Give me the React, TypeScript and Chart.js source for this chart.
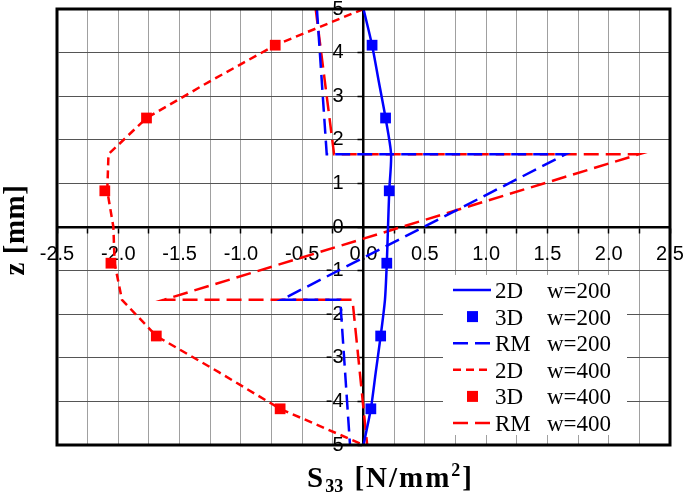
import React, { useEffect, useRef } from 'react';
import { Chart, registerables } from 'chart.js';

Chart.register(...registerables);

// ---- data ----
const zProfile = [5, 4.17, 3.33, 2.5, 1.67, 0.83, 0, -0.83, -1.67, -2.5, -3.33, -4.17, -5];
const s2D_w200 = [0, 0.07, 0.125, 0.18, 0.225, 0.21, 0.2, 0.19, 0.175, 0.14, 0.1, 0.06, 0];
const s2D_w400 = [0, -0.72, -1.26, -1.77, -2.08, -2.09, -2.04, -2.03, -1.97, -1.69, -1.18, -0.68, 0];

const zMarkers = [4.17, 2.5, 0.83, -0.83, -2.5, -4.17];
const s3D_w200 = [0.07, 0.18, 0.21, 0.19, 0.14, 0.06];
const s3D_w400 = [-0.72, -1.77, -2.11, -2.06, -1.69, -0.68];

const zRM = [5, 1.67, 1.67, -1.67, -1.67, -5];
const sRM_w200 = [-0.38, -0.3, 1.65, -0.67, -0.19, -0.11];
const sRM_w400 = [-0.39, -0.24, 2.25, -1.63, -0.09, 0.03];

const xMin = -2.5;
const xMax = 2.5;
const xGridStep = 0.25;
const yMin = -5;
const yMax = 5;
const yStep = 1;

const legendNames = ['2D', '3D', 'RM', '2D', '3D', 'RM'];
const legendWidths = ['w=200', 'w=200', 'w=200', 'w=400', 'w=400', 'w=400'];
const xTitleMain = 'S';
const xTitleSub = '33';
const xTitleMid = ' [N/mm';
const xTitleSup = '2';
const xTitleEnd = ']';
const yTitle = 'z [mm]';

const BLUE = '#0000ff';
const RED = '#ff0000';

const pts = (xs: number[], ys: number[]) => xs.map((x, i) => ({ x, y: ys[i] }));

const SERIF = '"Liberation Serif", "Times New Roman", serif';
const SANS = '"Liberation Sans", Arial, sans-serif';

const zeroPadding = (s: any) => {
  s.paddingTop = 0;
  s.paddingBottom = 0;
  s.paddingLeft = 0;
  s.paddingRight = 0;
};

const setSpacing = (ctx: any, v: string) => {
  try { ctx.letterSpacing = v; } catch (e) { /* ignore */ }
};

const decorPlugin = {
  id: 'decor',
  afterLayout(chart: any) {
    // put the y axis (line, ticks, labels) on x = 0
    const ys = chart.scales.y;
    const px = chart.scales.x.getPixelForValue(0);
    ys.left = px - 80;
    ys.right = px;
  },
  afterDatasetsDraw(chart: any) {
    const { ctx, chartArea } = chart;
    ctx.save();
    ctx.strokeStyle = '#000';
    ctx.lineWidth = 3;
    ctx.setLineDash([]);
    ctx.strokeRect(chartArea.left, chartArea.top, chartArea.right - chartArea.left, chartArea.bottom - chartArea.top);
    ctx.restore();
  },
  afterDraw(chart: any) {
    const { ctx } = chart;
    const ds = chart.data.datasets;
    // legend
    ctx.save();
    ctx.fillStyle = '#fff';
    ctx.fillRect(443, 275, 184, 160);
    for (let i = 0; i < ds.length; i++) {
      const d = ds[i];
      const cy = 290 + i * 26.6;
      if (d.showLine) {
        ctx.strokeStyle = d.borderColor;
        ctx.lineWidth = d.borderWidth;
        ctx.setLineDash(d.borderDash || []);
        ctx.beginPath();
        ctx.moveTo(453, cy);
        ctx.lineTo(491, cy);
        ctx.stroke();
        ctx.setLineDash([]);
      } else {
        ctx.fillStyle = d.backgroundColor;
        ctx.fillRect(467, cy - 5.5, 11, 11);
      }
      ctx.fillStyle = '#000';
      ctx.font = '23px ' + SERIF;
      ctx.textAlign = 'left';
      ctx.textBaseline = 'alphabetic';
      ctx.fillText(legendNames[i], 495, cy + 8);
      ctx.fillText(legendWidths[i], 547, cy + 8);
    }
    // x title
    ctx.fillStyle = '#000';
    ctx.textBaseline = 'alphabetic';
    ctx.textAlign = 'left';
    const base = 487;
    let x = 307;
    const big = 'bold 29px ' + SERIF;
    const small = 'bold 18px ' + SERIF;
    setSpacing(ctx, '2px');
    ctx.font = big;
    ctx.fillText(xTitleMain, x, base);
    x += ctx.measureText(xTitleMain).width;
    setSpacing(ctx, '0px');
    ctx.font = small;
    ctx.fillText(xTitleSub, x, base + 5);
    x += ctx.measureText(xTitleSub).width + 2;
    setSpacing(ctx, '2px');
    ctx.font = big;
    ctx.fillText(xTitleMid, x, base);
    x += ctx.measureText(xTitleMid).width;
    setSpacing(ctx, '0px');
    ctx.font = small;
    ctx.fillText(xTitleSup, x, base - 11);
    x += ctx.measureText(xTitleSup).width + 2;
    setSpacing(ctx, '2px');
    ctx.font = big;
    ctx.fillText(xTitleEnd, x, base);
    // y title
    setSpacing(ctx, '0.5px');
    ctx.save();
    ctx.translate(24, 230);
    ctx.rotate(-Math.PI / 2);
    ctx.textAlign = 'center';
    ctx.font = 'bold 29px ' + SERIF;
    ctx.fillText(yTitle, 0, 0);
    ctx.restore();
    setSpacing(ctx, '0px');
    ctx.restore();
  },
};

export default function App() {
  const ref = useRef<HTMLCanvasElement | null>(null);
  useEffect(() => {
    if (!ref.current) return;
    const chart = new Chart(ref.current, {
      type: 'scatter',
      data: {
        datasets: [
          { label: '2D w=200', data: pts(s2D_w200, zProfile), showLine: true, borderColor: BLUE, backgroundColor: BLUE, borderWidth: 2.5, pointRadius: 0, tension: 0.25 },
          { label: '3D w=200', data: pts(s3D_w200, zMarkers), showLine: false, borderColor: BLUE, backgroundColor: BLUE, borderWidth: 0, pointStyle: 'rect', pointRadius: 7.6 },
          { label: 'RM w=200', data: pts(sRM_w200, zRM), showLine: true, borderColor: BLUE, backgroundColor: BLUE, borderWidth: 2.5, borderDash: [15, 7], pointRadius: 0, tension: 0 },
          { label: '2D w=400', data: pts(s2D_w400, zProfile), showLine: true, borderColor: RED, backgroundColor: RED, borderWidth: 2.5, borderDash: [8, 5], pointRadius: 0, tension: 0 },
          { label: '3D w=400', data: pts(s3D_w400, zMarkers), showLine: false, borderColor: RED, backgroundColor: RED, borderWidth: 0, pointStyle: 'rect', pointRadius: 7.6 },
          { label: 'RM w=400', data: pts(sRM_w400, zRM), showLine: true, borderColor: RED, backgroundColor: RED, borderWidth: 2.5, borderDash: [15, 7], pointRadius: 0, tension: 0 },
        ] as any,
      },
      options: {
        animation: false,
        responsive: false,
        events: [],
        layout: { padding: { left: 57, right: 15, top: 9, bottom: 51 } },
        plugins: { legend: { display: false }, tooltip: { enabled: false } },
        scales: {
          x: {
            type: 'linear',
            position: { y: 0 } as any,
            min: xMin,
            max: xMax,
            afterFit: (s: any) => { s.height = 0; zeroPadding(s); },
            ticks: {
              stepSize: xGridStep,
              autoSkip: false,
              maxRotation: 0,
              includeBounds: true,
              padding: 10,
              color: '#000',
              font: { family: SANS, size: 20 },
              callback: (v: any) => (Math.abs((Number(v) * 2) % 1) < 1e-9 ? Number(v).toFixed(1) : ''),
            },
            grid: { color: '#a0a0a0', lineWidth: 1, tickLength: 5, tickColor: '#000', tickWidth: 1.5 },
            border: { color: '#000', width: 2.5 },
          },
          y: {
            type: 'linear',
            position: 'left',
            min: yMin,
            max: yMax,
            afterFit: (s: any) => { s.width = 0; zeroPadding(s); },
            ticks: {
              stepSize: yStep,
              autoSkip: false,
              padding: 14,
              color: '#000',
              font: { family: SANS, size: 20 },
              callback: (v: any) => String(v),
            },
            grid: { color: '#555555', lineWidth: 1, tickLength: 6, tickColor: '#000', tickWidth: 1.5 },
            border: { color: '#000', width: 2.5 },
          },
        },
      } as any,
      plugins: [decorPlugin],
    });
    return () => chart.destroy();
  }, []);
  return (
    <div style={{ position: 'absolute', left: 0, top: 0, width: 685, height: 496, background: '#fff' }}>
      <canvas ref={ref} width={685} height={496} style={{ display: 'block' }} />
    </div>
  );
}
